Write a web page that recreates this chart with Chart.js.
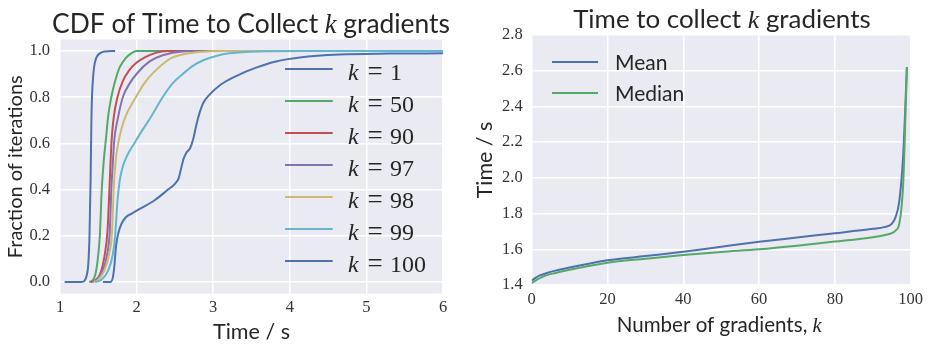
<!DOCTYPE html>
<html>
<head>
<meta charset="utf-8">
<script src="https://cdn.jsdelivr.net/npm/chart.js@4.4.0/dist/chart.umd.min.js"></script>
<style>
  html, body { margin: 0; padding: 0; background: #fff; }
  #wrap { position: relative; width: 936px; height: 350px; }
  canvas { position: absolute; top: 0; }
</style>
</head>
<body>
<div id="wrap">
  <canvas id="cdf" width="468" height="350" style="left:0"></canvas>
  <canvas id="gradTime" width="468" height="350" style="left:468px"></canvas>
</div>
<script>
// ---- data: CDF of time to collect k gradients ----
const kValues = [1, 50, 90, 97, 98, 99, 100];

const time_k1 = [1.06, 1.28, 1.32, 1.35, 1.37, 1.385, 1.40, 1.41, 1.42, 1.435, 1.455, 1.48, 1.52, 1.58, 1.72];
const frac_k1 = [0, 0, 0.005, 0.03, 0.08, 0.2, 0.45, 0.7, 0.82, 0.9, 0.95, 0.975, 0.99, 0.998, 1.0];

const time_k50 = [1.38, 1.42, 1.46, 1.49, 1.52, 1.545, 1.57, 1.60, 1.63, 1.67, 1.72, 1.78, 1.86, 1.93, 2.0, 6.0];
const frac_k50 = [0, 0.005, 0.03, 0.09, 0.2, 0.4, 0.52, 0.62, 0.72, 0.8, 0.87, 0.93, 0.97, 0.99, 1.0, 1.0];

const time_k90 = [1.40, 1.45, 1.50, 1.54, 1.58, 1.62, 1.645, 1.66, 1.675, 1.70, 1.75, 1.82, 1.90, 2.0, 2.12, 2.25, 2.4, 6.0];
const frac_k90 = [0, 0.005, 0.02, 0.05, 0.11, 0.22, 0.4, 0.52, 0.62, 0.71, 0.8, 0.87, 0.915, 0.95, 0.975, 0.992, 1.0, 1.0];

const time_k97 = [1.42, 1.48, 1.56, 1.61, 1.65, 1.67, 1.69, 1.71, 1.75, 1.82, 1.91, 2.01, 2.17, 2.34, 2.6, 3.0, 6.0];
const frac_k97 = [0, 0.01, 0.05, 0.11, 0.22, 0.4, 0.52, 0.62, 0.7, 0.8, 0.86, 0.905, 0.955, 0.982, 0.998, 1.0, 1.0];

const time_k98 = [1.44, 1.50, 1.58, 1.64, 1.68, 1.70, 1.725, 1.76, 1.80, 1.86, 1.99, 2.1, 2.2, 2.43, 2.6, 2.82, 3.1, 6.0];
const frac_k98 = [0, 0.01, 0.05, 0.12, 0.22, 0.4, 0.52, 0.6, 0.66, 0.72, 0.8, 0.86, 0.9, 0.965, 0.985, 0.996, 1.0, 1.0];

const time_k99 = [1.46, 1.54, 1.63, 1.69, 1.72, 1.75, 1.78, 1.82, 1.88, 1.97, 2.06, 2.16, 2.34, 2.47, 2.60,
                  2.73, 2.87, 3.05, 3.21, 3.6, 4.2, 6.0];
const frac_k99 = [0, 0.01, 0.05, 0.12, 0.2, 0.35, 0.44, 0.5, 0.55, 0.6, 0.65, 0.7, 0.8, 0.86, 0.9,
                  0.935, 0.96, 0.98, 0.99, 0.998, 1.0, 1.0];

const time_k100 = [1.56, 1.66, 1.69, 1.71, 1.73, 1.76, 1.80, 1.86, 1.93, 2.06, 2.24, 2.41, 2.50, 2.55, 2.58,
                   2.61, 2.65, 2.70, 2.74, 2.78, 2.82, 2.87, 2.95, 3.10, 3.32, 3.56, 3.82, 4.13, 4.65, 5.3, 6.0];
const frac_k100 = [0, 0, 0.02, 0.07, 0.15, 0.21, 0.25, 0.28, 0.295, 0.32, 0.355, 0.40, 0.425, 0.45, 0.49,
                   0.53, 0.56, 0.58, 0.62, 0.68, 0.73, 0.775, 0.81, 0.855, 0.895, 0.928, 0.955, 0.972, 0.985, 0.989, 0.99];

const cdfTimes = [time_k1, time_k50, time_k90, time_k97, time_k98, time_k99, time_k100];
const cdfFracs = [frac_k1, frac_k50, frac_k90, frac_k97, frac_k98, frac_k99, frac_k100];

const cdfXTicks = [1, 2, 3, 4, 5, 6];
const cdfYTicks = [0, 0.2, 0.4, 0.6, 0.8, 1.0];

// ---- data: time to collect k gradients ----
const numGradients = [0, 1, 2, 4, 6, 10, 15, 20, 30, 40, 50, 60, 70, 80, 90, 93, 95, 96, 97, 98, 99];
const meanTime   = [1.425, 1.44, 1.452, 1.467, 1.479, 1.498, 1.519, 1.538, 1.562, 1.586, 1.614, 1.642,
                    1.666, 1.690, 1.715, 1.724, 1.742, 1.78, 1.87, 2.12, 2.62];
const medianTime = [1.41, 1.425, 1.437, 1.455, 1.466, 1.485, 1.506, 1.525, 1.547, 1.568, 1.585, 1.600,
                    1.620, 1.643, 1.668, 1.679, 1.690, 1.705, 1.745, 1.96, 2.62];

const gradXTicks = [0, 20, 40, 60, 80, 100];
const gradYTicks = [1.4, 1.6, 1.8, 2.0, 2.2, 2.4, 2.6, 2.8];

// ---- styles ----
const seriesColors = ['#4C72B0', '#55A868', '#C44E52', '#8172B2', '#CCB974', '#64B5CD', '#4C72B0'];
const SANS = 'Lato, "DejaVu Sans", sans-serif';
const SERIF = '"Liberation Serif", "DejaVu Serif", serif';
const TEXT = '#262626';

function fontFor(style, size) {
  if (style === 'ital') return 'italic ' + size + 'px ' + SERIF;
  if (style === 'serif') return size + 'px ' + SERIF;
  return size + 'px ' + SANS;
}

// draw mixed-font text fitted to a given width, centred on (cx, y) baseline
function drawParts(ctx, parts, cx, y, width, rotated) {
  ctx.save();
  const measure = (size) => parts.reduce((w, p) => {
    ctx.font = fontFor(p[1], size);
    return w + ctx.measureText(p[0]).width;
  }, 0);
  const size = 20 * width / measure(20);
  const total = measure(size);
  ctx.translate(cx, y);
  if (rotated) ctx.rotate(-Math.PI / 2);
  ctx.fillStyle = TEXT;
  ctx.textBaseline = 'alphabetic';
  ctx.textAlign = 'left';
  let x = -total / 2;
  parts.forEach(p => {
    ctx.font = fontFor(p[1], size);
    ctx.fillText(p[0], x, 0);
    x += ctx.measureText(p[0]).width;
  });
  ctx.restore();
}

const panelBg = {
  id: 'panelBg',
  beforeDraw(chart) {
    const { ctx, chartArea: a } = chart;
    ctx.save();
    ctx.fillStyle = '#EAEAF2';
    ctx.fillRect(a.left, a.top, a.right - a.left, a.bottom - a.top);
    ctx.restore();
  }
};

function axisOpts(min, max, ticks, fmt, pad) {
  return {
    type: 'linear', min: min, max: max,
    afterBuildTicks: ax => { ax.ticks = ticks.map(v => ({ value: v })); },
    grid: { color: '#ffffff', lineWidth: 1.5, drawTicks: false },
    border: { display: false },
    ticks: {
      autoSkip: false, maxRotation: 0, padding: pad,
      color: '#333333', font: { family: SERIF, size: 16.5 },
      callback: fmt
    }
  };
}

// ---- left chart ----
const cdfDecor = {
  id: 'cdfDecor',
  afterDraw(chart) {
    const ctx = chart.ctx;
    drawParts(ctx, [['CDF of Time to Collect ', 'sans'], ['k', 'ital'], [' gradients', 'sans']], 251, 33, 398);
    drawParts(ctx, [['Time / s', 'sans']], 251.5, 339, 77);
    drawParts(ctx, [['Fraction of iterations', 'sans']], 21.7, 166.7, 183, true);
    // legend
    ctx.save();
    chart.data.datasets.forEach((ds, i) => {
      const y = 69 + i * 32;
      ctx.strokeStyle = ds.borderColor;
      ctx.lineWidth = 2;
      ctx.beginPath();
      ctx.moveTo(285, y);
      ctx.lineTo(332.7, y);
      ctx.stroke();
      ctx.fillStyle = TEXT;
      ctx.textBaseline = 'alphabetic';
      ctx.textAlign = 'left';
      ctx.font = fontFor('ital', 24);
      ctx.fillText('k', 348, y + 10.5);
      ctx.font = fontFor('serif', 27);
      ctx.textAlign = 'center';
      ctx.fillText('=', 375, y + 10.5);
      ctx.font = fontFor('serif', 24);
      ctx.textAlign = 'left';
      ctx.fillText(String(kValues[i]), 390, y + 10.5);
    });
    ctx.restore();
  }
};

const xCdf = axisOpts(1, 6, cdfXTicks, v => String(v), 4);
xCdf.afterFit = ax => { ax.height = 56.5; };
const yCdf = axisOpts(-0.05, 1.05, cdfYTicks, v => v.toFixed(1), 10);
yCdf.afterFit = ax => { ax.width = 60; };

new Chart(document.getElementById('cdf'), {
  type: 'line',
  data: {
    datasets: kValues.map((k, i) => ({
      label: 'k = ' + k,
      data: cdfTimes[i].map((t, j) => ({ x: t, y: cdfFracs[i][j] })),
      borderColor: seriesColors[i],
      borderWidth: 2,
      pointRadius: 0,
      fill: false,
      cubicInterpolationMode: 'monotone',
      order: -i
    }))
  },
  options: {
    responsive: false,
    animation: false,
    events: [],
    layout: { padding: { top: 39.5, right: 25, left: 0, bottom: 0 } },
    plugins: { legend: { display: false }, tooltip: { enabled: false } },
    scales: { x: xCdf, y: yCdf }
  },
  plugins: [panelBg, cdfDecor]
});

// ---- right chart ----
const gradDecor = {
  id: 'gradDecor',
  afterDraw(chart) {
    const ctx = chart.ctx;
    drawParts(ctx, [['Time to collect ', 'sans'], ['k', 'ital'], [' gradients', 'sans']], 253.9, 28.3, 297.7);
    drawParts(ctx, [['Number of gradients, ', 'sans'], ['k', 'ital']], 251.2, 331.7, 205);
    drawParts(ctx, [['Time / s', 'sans']], 23.7, 160, 76.7, true);
    ctx.save();
    chart.data.datasets.forEach((ds, i) => {
      const y = 62 + i * 31;
      ctx.strokeStyle = ds.borderColor;
      ctx.lineWidth = 2;
      ctx.beginPath();
      ctx.moveTo(84, y);
      ctx.lineTo(130, y);
      ctx.stroke();
      ctx.fillStyle = TEXT;
      ctx.textBaseline = 'alphabetic';
      ctx.textAlign = 'left';
      ctx.font = fontFor('sans', 21);
      ctx.fillText(ds.label, 147, y + 8.3);
    });
    ctx.restore();
  }
};

const xGrad = axisOpts(0, 100, gradXTicks, v => String(v), 5);
xGrad.afterFit = ax => { ax.height = 65; };
const yGrad = axisOpts(1.4, 2.8, gradYTicks, v => v.toFixed(1), 9);
yGrad.afterFit = ax => { ax.width = 63.7; };

new Chart(document.getElementById('gradTime'), {
  type: 'line',
  data: {
    datasets: [
      { label: 'Mean', data: numGradients.map((k, j) => ({ x: k, y: meanTime[j] })),
        borderColor: seriesColors[0], order: 0 },
      { label: 'Median', data: numGradients.map((k, j) => ({ x: k, y: medianTime[j] })),
        borderColor: seriesColors[1], order: -1 }
    ].map(d => Object.assign(d, { borderWidth: 2, pointRadius: 0, fill: false, cubicInterpolationMode: 'monotone' }))
  },
  options: {
    responsive: false,
    animation: false,
    events: [],
    layout: { padding: { top: 35, right: 25.3, left: 0, bottom: 0 } },
    plugins: { legend: { display: false }, tooltip: { enabled: false } },
    scales: { x: xGrad, y: yGrad }
  },
  plugins: [panelBg, gradDecor]
});
</script>
</body>
</html>
